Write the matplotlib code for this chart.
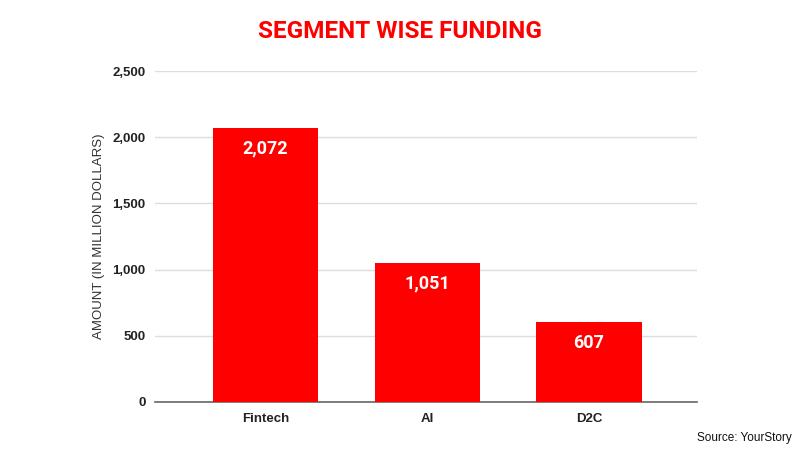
import matplotlib
matplotlib.use('Agg')
from matplotlib import pyplot as plt
from matplotlib.ticker import FuncFormatter

# data
segments = ['Fintech', 'AI', 'D2C']
funding = [2072, 1051, 607]
y_ticks = [0, 500, 1000, 1500, 2000, 2500]

RED = '#ff0000'

fig = plt.figure(figsize=(8, 4.5), dpi=100)
ax = fig.add_axes([0.194, 0.107, 0.677, 0.735])

x = list(range(len(segments)))
bars = ax.bar(x, funding, width=0.65, color=RED, zorder=3)

ax.set_xlim(-0.683, 2.667)
ax.set_ylim(0, 2500)
ax.set_yticks(y_ticks)
ax.yaxis.set_major_formatter(FuncFormatter(lambda v, p: f'{int(v):,}'))
ax.grid(axis='y', color='#dddddd', linewidth=1, zorder=0)
for s in ['top', 'right', 'left']:
  ax.spines[s].set_visible(False)
ax.spines['bottom'].set_color('#666666')
ax.spines['bottom'].set_linewidth(1.2)
ax.tick_params(axis='both', length=0)
ax.tick_params(axis='y', pad=7)
ax.tick_params(axis='x', pad=8)

ax.set_xticks(x)
ax.set_xticklabels(segments, fontfamily='Liberation Sans', fontweight='bold', fontsize=9.5, color='#222222')
for lbl in ax.get_yticklabels():
  lbl.set_fontfamily('Liberation Sans')
  lbl.set_fontweight('bold')
  lbl.set_fontsize(9.5)
  lbl.set_color('#222222')

ax.set_ylabel('AMOUNT (IN MILLION DOLLARS)', fontfamily='Liberation Sans', fontsize=9.5, color='#333333', labelpad=5)

# value labels inside bars
for xi, v in zip(x, funding):
  ax.annotate(f'{v:,}', (xi, v), xytext=(0, -21), textcoords='offset pixels',
              ha='center', va='center', color='white', fontfamily='Roboto', fontweight='bold', fontsize=13)

fig.text(0.5, 0.93, 'SEGMENT WISE FUNDING', ha='center', va='center', color=RED,
         fontfamily='Roboto', fontweight='bold', fontsize=17.5)
fig.text(0.99, 0.027, 'Source: YourStory', ha='right', va='center', fontfamily='Liberation Sans', fontsize=8.5, color='#111111')

fig.savefig('out.png', dpi=100)
